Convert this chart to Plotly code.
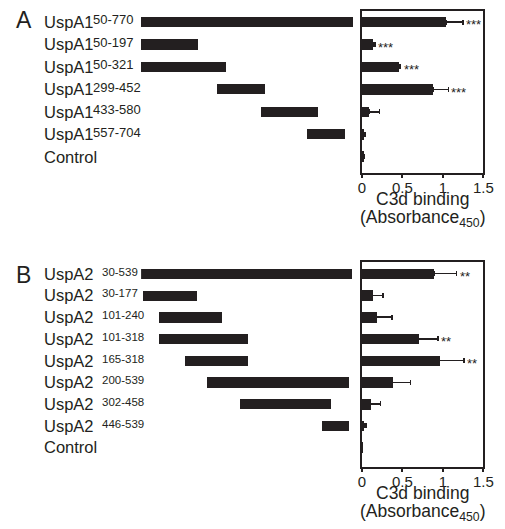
import plotly.graph_objects as go

W, H = 505, 529
FONT = "Liberation Sans, Arial, Helvetica, sans-serif"
INK = "#231f20"

# ---------------- Panel A data ----------------
a_names = ["UspA1", "UspA1", "UspA1", "UspA1", "UspA1", "UspA1", "Control"]
a_sup = ["50-770", "50-197", "50-321", "299-452", "433-580", "557-704", ""]
# drawn span of each construct (residue scale, as drawn in the schematic)
a_start = [50, 50, 50, 309, 457, 614]
a_end = [770, 242, 337, 469, 649, 743]
# C3d binding (Absorbance450)
a_val = [1.04, 0.14, 0.46, 0.88, 0.09, 0.03, 0.025]
a_err = [0.21, 0.02, 0.02, 0.19, 0.13, 0.01, 0.01]
a_sig = ["***", "***", "***", "***", "", "", ""]

# ---------------- Panel B data ----------------
b_names = ["UspA2"] * 8 + ["Control"]
b_sup = ["30-539", "30-177", "101-240", "101-318", "165-318", "200-539",
         "302-458", "446-539", ""]
b_start = [30, 34, 73, 73, 135, 188, 268, 465]
b_end = [539, 164, 225, 288, 288, 530, 487, 530]
b_val = [0.89, 0.13, 0.18, 0.70, 0.96, 0.38, 0.11, 0.03, 0.01]
b_err = [0.28, 0.13, 0.19, 0.24, 0.30, 0.22, 0.12, 0.02, 0.0]
b_sig = ["**", "", "", "**", "**", "", "", "", ""]

tick_vals = [0, 0.5, 1, 1.5]
tick_text = ["0", "0.5", "1", "1.5"]


def px_x(p):
    return p / W


def px_y(p):
    return 1 - p / H


fig = go.Figure()

# geometry (pixels)
A_TOP, A_BOT = 11, 172.7
B_TOP, B_BOT = 261.7, 466.7
R_L, R_R = 368, 493

a_rows = list(range(len(a_names)))
b_rows = list(range(len(b_names)))

# schematic bars
fig.add_trace(go.Bar(
    y=a_rows[:len(a_start)], x=[e - s for s, e in zip(a_start, a_end)], base=a_start,
    orientation="h", width=0.45, marker=dict(color=INK, line=dict(width=0)),
    xaxis="x", yaxis="y", showlegend=False, hoverinfo="skip"))
fig.add_trace(go.Bar(
    y=b_rows[:len(b_start)], x=[e - s for s, e in zip(b_start, b_end)], base=b_start,
    orientation="h", width=0.48, marker=dict(color=INK, line=dict(width=0)),
    xaxis="x3", yaxis="y3", showlegend=False, hoverinfo="skip"))

# binding bars
fig.add_trace(go.Bar(
    y=a_rows, x=a_val, orientation="h", width=0.47,
    marker=dict(color=INK, line=dict(width=0)),
    error_x=dict(type="data", array=a_err, symmetric=False, arrayminus=[0] * len(a_err),
                 color=INK, thickness=1.5, width=2.5),
    xaxis="x2", yaxis="y2", showlegend=False))
fig.add_trace(go.Bar(
    y=b_rows, x=b_val, orientation="h", width=0.49,
    marker=dict(color=INK, line=dict(width=0)),
    error_x=dict(type="data", array=b_err, symmetric=False, arrayminus=[0] * len(b_err),
                 color=INK, thickness=1.5, width=2.5),
    xaxis="x4", yaxis="y4", showlegend=False))

hidden = dict(visible=False, showgrid=False, zeroline=False)
box = dict(showline=True, mirror=True, linewidth=2, linecolor=INK,
           showgrid=False, zeroline=False)
xticks = dict(tickvals=tick_vals, ticktext=tick_text, ticks="outside", ticklen=3,
              tickwidth=1.5, tickcolor=INK, ticklabelstandoff=-3,
              tickfont=dict(size=15, family=FONT, color=INK))

fig.update_layout(
    width=W, height=H, margin=dict(l=0, r=0, t=0, b=0),
    paper_bgcolor="white", plot_bgcolor="white", bargap=0,
    font=dict(family=FONT, color=INK),
    xaxis=dict(domain=[px_x(140.7), px_x(359)], range=[50, 770], anchor="y", **hidden),
    yaxis=dict(domain=[px_y(A_BOT), px_y(A_TOP)], range=[6.71, -0.49], anchor="x", **hidden),
    xaxis2=dict(domain=[px_x(R_L), px_x(R_R)], range=[0, 1.5], anchor="y2", **xticks, **box),
    yaxis2=dict(domain=[px_y(A_BOT), px_y(A_TOP)], range=[6.71, -0.49], anchor="x2",
                showticklabels=False, ticks="", **box),
    xaxis3=dict(domain=[px_x(141), px_x(358.3)], range=[30, 539], anchor="y3", **hidden),
    yaxis3=dict(domain=[px_y(B_BOT), px_y(B_TOP)], range=[8.89, -0.553], anchor="x3", **hidden),
    xaxis4=dict(domain=[px_x(R_L), px_x(R_R)], range=[0, 1.5], anchor="y4", **xticks, **box),
    yaxis4=dict(domain=[px_y(B_BOT), px_y(B_TOP)], range=[8.89, -0.553], anchor="x4",
                showticklabels=False, ticks="", **box),
)


def note(text, x, y, xref="paper", yref="paper", size=17, xanchor="center",
         yanchor="middle", xshift=0, yshift=0):
    return dict(text=text, x=x, y=y, xref=xref, yref=yref, xanchor=xanchor,
                yanchor=yanchor, xshift=xshift, yshift=yshift, showarrow=False,
                font=dict(size=size, family=FONT, color=INK))


ann = []
# panel letters
ann.append(note("A", px_x(21), px_y(20), size=23))
ann.append(note("B", px_x(20.5), px_y(275), size=23))

LBL = 16.5
for i, (n, s) in enumerate(zip(a_names, a_sup)):
    ann.append(note(n, px_x(39.5), i, yref="y", size=LBL, xanchor="left"))
    if s:
        ann.append(note(s, px_x(89), i, yref="y", size=13, xanchor="left", yshift=2))
for i, (n, s) in enumerate(zip(b_names, b_sup)):
    ann.append(note(n, px_x(39.5), i, yref="y3", size=LBL, xanchor="left"))
    if s:
        ann.append(note(s, px_x(98.5), i, yref="y3", size=11.5, xanchor="left", yshift=2))

# significance marks
for i, (v, e, s) in enumerate(zip(a_val, a_err, a_sig)):
    if s:
        ann.append(note(s, v + e, i, xref="x2", yref="y2", size=13, xanchor="left",
                        xshift=1, yshift=-3))
for i, (v, e, s) in enumerate(zip(b_val, b_err, b_sig)):
    if s:
        ann.append(note(s, v + e, i, xref="x4", yref="y4", size=13, xanchor="left",
                        xshift=1, yshift=-3))

# axis titles
cx = px_x((R_L + R_R) / 2)
for bot in (A_BOT, B_BOT):
    ann.append(note("C3d binding", cx, px_y(bot + 26), size=17.5))
    ann.append(note("(Absorbance<sub>450</sub>)", cx, px_y(bot + 46), size=17.5))

fig.update_layout(annotations=ann)

PAGE_JS = (
    "var de=document.documentElement,b=document.body;"
    "de.style.margin='0';de.style.padding='0';de.style.overflow='hidden';"
    "b.style.margin='0';b.style.padding='0';b.style.overflow='hidden';"
)
fig.write_html("out.html", config={"displayModeBar": False}, post_script=PAGE_JS)
